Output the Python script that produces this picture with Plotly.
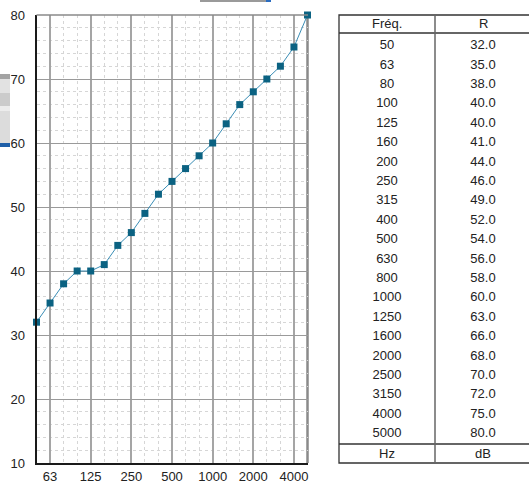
import plotly.graph_objects as go

# ---- data ----
freqs = [50, 63, 80, 100, 125, 160, 200, 250, 315, 400, 500, 630, 800,
         1000, 1250, 1600, 2000, 2500, 3150, 4000, 5000]
r_values = [32.0, 35.0, 38.0, 40.0, 40.0, 41.0, 44.0, 46.0, 49.0, 52.0, 54.0,
            56.0, 58.0, 60.0, 63.0, 66.0, 68.0, 70.0, 72.0, 75.0, 80.0]
major_freqs = [63, 125, 250, 500, 1000, 2000, 4000]
header = ["Fréq.", "R"]
units = ["Hz", "dB"]
y_ticks = [10, 20, 30, 40, 50, 60, 70, 80]

W, H = 529, 485
def px(x):
    return x / W
def py(y):
    return 1 - y / H

idx = list(range(len(freqs)))
major_idx = [freqs.index(f) for f in major_freqs]
minor_idx = [i for i in idx if i not in major_idx]

FONT = "Liberation Sans, Arial, sans-serif"
fig = go.Figure()

fig.add_trace(go.Scatter(
    x=idx, y=r_values, mode="lines+markers",
    line=dict(color="#3a8db5", width=1),
    marker=dict(symbol="square", size=7, color="#0b6282",
                line=dict(width=0)),
    cliponaxis=False, showlegend=False, hoverinfo="skip"))

# table text via second axes
row_top, row_step = 46, 19.4
fig.add_trace(go.Scatter(
    x=[0] * len(freqs), y=idx, mode="text", text=[str(f) for f in freqs],
    textfont=dict(family=FONT, size=13, color="#222"),
    xaxis="x2", yaxis="y2", showlegend=False, hoverinfo="skip", cliponaxis=False))
fig.add_trace(go.Scatter(
    x=[1] * len(r_values), y=idx, mode="text",
    text=[f"{v:.1f}" for v in r_values],
    textfont=dict(family=FONT, size=13, color="#222"),
    xaxis="x2", yaxis="y2", showlegend=False, hoverinfo="skip", cliponaxis=False))

shapes = []
# plot borders top/right
shapes.append(dict(type="line", xref="paper", yref="paper", x0=px(36.5), x1=px(308),
                   y0=py(15), y1=py(15), line=dict(color="#8a8a8a", width=1.5)))
shapes.append(dict(type="line", xref="paper", yref="paper", x0=px(307.5), x1=px(307.5),
                   y0=py(15), y1=py(463), line=dict(color="#8a8a8a", width=2.5), layer="below"))

# table lines
tl, tr, tm = 339, 531, 435
tt, tb = 15, 463
line_c = dict(color="#333", width=1.3)
shapes += [
    dict(type="rect", xref="paper", yref="paper", x0=px(tl), x1=px(tr), y0=py(tt), y1=py(tb), line=line_c),
    dict(type="line", xref="paper", yref="paper", x0=px(tl), x1=px(tr), y0=py(33), y1=py(33), line=line_c),
    dict(type="line", xref="paper", yref="paper", x0=px(tl), x1=px(tr), y0=py(444), y1=py(444), line=line_c),
    dict(type="line", xref="paper", yref="paper", x0=px(tm), x1=px(tm), y0=py(tt), y1=py(tb),
         line=dict(color="#666", width=1.5)),
]

# screenshot artifacts at the left edge and top
bands = [(74, 79, "#a3a3a3"), (79, 93, "#e2e2e2"), (93, 106, "#cbcbcb"),
         (106, 111, "#ececec"), (111, 143, "#dcdcdc"), (143, 147, "#1f5fa8")]
for y0, y1, c in bands:
    shapes.append(dict(type="rect", xref="paper", yref="paper", x0=0, x1=px(10),
                       y0=py(y0), y1=py(y1), fillcolor=c, line=dict(width=0)))
shapes.append(dict(type="rect", xref="paper", yref="paper", x0=px(200), x1=px(266),
                   y0=py(0), y1=py(2), fillcolor="#9a9a9a", line=dict(width=0)))
shapes.append(dict(type="rect", xref="paper", yref="paper", x0=px(266), x1=px(271),
                   y0=py(0), y1=py(2), fillcolor="#2a6cc0", line=dict(width=0)))

annotations = []
for i, (h, u) in enumerate(zip(header, units)):
    cx = (tl + tm) / 2 if i == 0 else (tm + tr) / 2
    annotations.append(dict(text=h, x=px(cx), y=py(23), xref="paper", yref="paper",
                            showarrow=False, xanchor="center", yanchor="middle",
                            font=dict(family=FONT, size=13, color="#222")))
    annotations.append(dict(text=u, x=px(cx), y=py(453), xref="paper", yref="paper",
                            showarrow=False, xanchor="center", yanchor="middle",
                            font=dict(family=FONT, size=13, color="#222")))

fig.update_layout(
    width=W, height=H, margin=dict(l=0, r=0, t=0, b=0, pad=0),
    paper_bgcolor="white", plot_bgcolor="white",
    shapes=shapes, annotations=annotations,
    xaxis=dict(domain=[px(36.5), px(307.5)], range=[0, 20], automargin=False,
               tickvals=major_idx, ticktext=[str(f) for f in major_freqs],
               showgrid=True, gridcolor="#a5a5a5", gridwidth=1.5,
               showline=True, linecolor="#1a1a1a", linewidth=2,
               ticks="", ticklabelstandoff=0, zeroline=False,
               tickfont=dict(family=FONT, size=13, color="#222"),
               minor=dict(tickvals=minor_idx, showgrid=True, gridcolor="#d6d6d6",
                          griddash="3px,3px", gridwidth=1, ticks="")),
    yaxis=dict(domain=[py(463), py(15)], range=[10, 80], automargin=False,
               tickvals=y_ticks, showgrid=True, gridcolor="#9a9a9a", gridwidth=1.2,
               showline=True, linecolor="#1a1a1a", linewidth=2,
               ticks="", ticklabelstandoff=7, zeroline=False,
               tickfont=dict(family=FONT, size=13, color="#222"),
               minor=dict(dtick=2, showgrid=True, gridcolor="#d6d6d6",
                          griddash="3px,3px", gridwidth=1, ticks="")),
    xaxis2=dict(domain=[px(tl), 1.0], automargin=False,
                range=[-0.5, -0.5 + 2 * (W - tl) / (tr - tl)],
                visible=False, fixedrange=True),
    yaxis2=dict(domain=[0, 1], automargin=False,
                range=[(H - row_top) / row_step, -row_top / row_step],
                visible=False, fixedrange=True),
)

fig.write_html("out.html", config={"displayModeBar": False},
               post_script="document.body.style.margin='0';document.body.style.overflow='hidden';")
